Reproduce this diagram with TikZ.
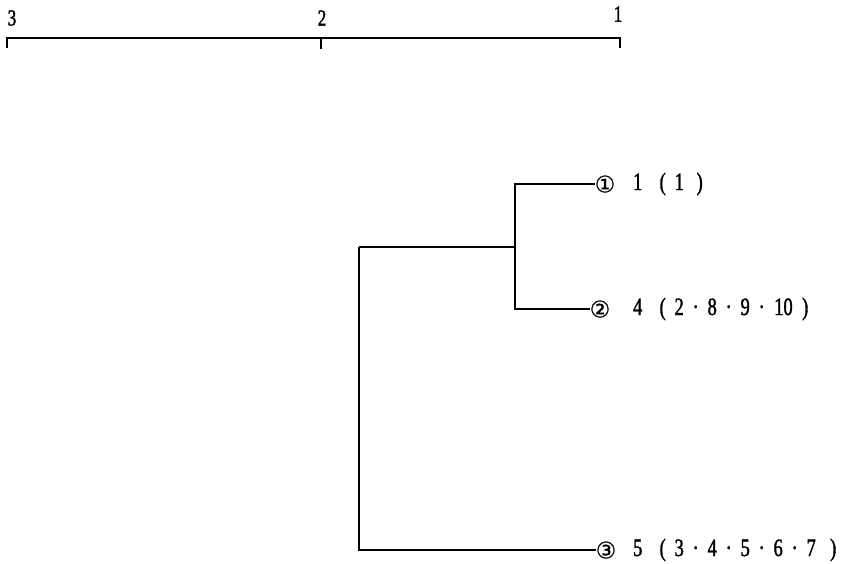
\documentclass[tikz,border=0pt]{standalone}
\usepackage{fontspec}
\setmainfont{Liberation Serif}
\newfontfamily\narrowfont[FakeStretch=0.74,FakeBold=1.4]{Liberation Serif}
\newfontfamily\symfont[FakeBold=0.6]{DejaVu Sans}
\newcommand\cbox[1]{\makebox[16.5pt]{#1}}
\newcommand\wbox[1]{\makebox[27pt]{#1}}
\begin{document}
\begin{tikzpicture}[x=1pt,y=-1pt,
  ln/.style={line width=1.3pt},
  lab/.style={anchor=west,inner sep=0pt,font=\narrowfont\fontsize{25}{25}\selectfont},
  circ/.style={inner sep=0pt,font=\symfont\fontsize{23}{23}\selectfont},
  axl/.style={inner sep=0pt,font=\narrowfont\fontsize{23}{23}\selectfont}]
\useasboundingbox (0,0) rectangle (853,563);
% axis
\coordinate (a3) at (7,38);
\coordinate (a2) at (321,38);
\coordinate (a1) at (620,38);
\draw[ln] (a3) ++(0,10) -- (a3) -- (a1) -- ++(0,10);
\draw[ln] (a2) -- ++(0,11);
\node[axl] (t3) at (12,18) {3};
\node[axl] (t2) at (322,18) {2};
\node[axl] (t1) at (618,14) {1};
% leaves
\node[circ] (c1) at (605,184) {①};
\node[circ] (c2) at (600,309) {②};
\node[circ] (c3) at (606,550) {③};
\node[lab] (l1) at (629.25,184) {\cbox{1}\hspace{8.5pt}\cbox{(}\cbox{1}\hspace{4pt}\cbox{)}};
\node[lab] (l2) at (629.25,309) {\cbox{4}\hspace{8.5pt}\cbox{(}\cbox{2}\cbox{·}\cbox{8}\cbox{·}\cbox{9}\cbox{·}\wbox{10}\cbox{)}};
\node[lab] (l3) at (629.25,550) {\cbox{5}\hspace{8.5pt}\cbox{(}\cbox{3}\cbox{·}\cbox{4}\cbox{·}\cbox{5}\cbox{·}\cbox{6}\cbox{·}\cbox{7}\hspace{5.5pt}\cbox{)}};
% dendrogram
\coordinate (j1) at (515,247);
\coordinate (j2) at (359,398);
\draw[ln] (c1.west) -- (c1.west -| j1) -- (c2.west -| j1) -- (c2.west);
\draw[ln] (j1) -- (j1 -| j2);
\draw[ln] (j1 -| j2) -- (c3.west -| j2) -- (c3.west);
\end{tikzpicture}
\end{document}
